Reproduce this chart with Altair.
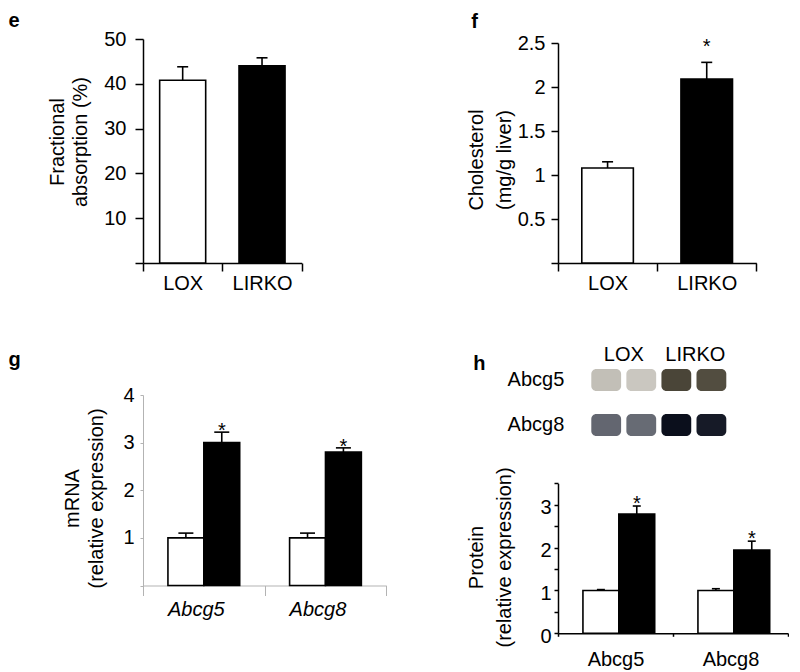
import altair as alt
import pandas as pd

FONT = "Liberation Sans"
GRAY = "#b3b3b3"

# ---------------- data ----------------
groups = ["LOX", "LIRKO"]
genes = ["Abcg5", "Abcg8"]

# panel e: fractional absorption (%)
e_mean = [40.8, 44.0]
e_upper = [43.8, 45.8]

# panel f: liver cholesterol (mg/g)
f_mean = [1.08, 2.09]
f_upper = [1.15, 2.28]
f_star = ["", "*"]

# panel g: mRNA relative expression
g_lox_mean = [1.0, 1.0]
g_lox_upper = [1.1, 1.1]
g_lirko_mean = [3.0, 2.8]
g_lirko_upper = [3.22, 2.89]
g_star = ["*", "*"]

# panel h: protein relative expression
h_lox_mean = [1.0, 1.0]
h_lox_upper = [1.02, 1.04]
h_lirko_mean = [2.78, 1.94]
h_lirko_upper = [2.97, 2.15]
h_star = ["*", "*"]

# western blot lanes (relative band darkness)
blot_lanes = ["LOX-1", "LOX-2", "LIRKO-1", "LIRKO-2"]
blot_abcg5 = [0.24, 0.2, 0.84, 0.8]
blot_abcg8 = [0.6, 0.58, 0.98, 0.93]

panel_letters = ["e", "f", "g", "h"]


def bar_color():
    return alt.Color("group:N", scale=alt.Scale(domain=groups, range=["white", "black"]), legend=None)


def letter(ch, x, y):
    return alt.Chart(pd.DataFrame({"t": [ch]})).mark_text(
        align="left", baseline="top", font=FONT, fontSize=20, fontWeight="bold", color="black"
    ).encode(text="t:N", x=alt.value(x), y=alt.value(y))


# ---------------- panel e ----------------
e_df = pd.DataFrame({"group": groups, "mean": e_mean, "upper": e_upper})
e_x = alt.X("group:N", sort=groups, scale=alt.Scale(domain=groups, paddingInner=0, paddingOuter=0),
            axis=alt.Axis(title=None, labelAngle=0, tickBand="extent", tickSize=8, labelPadding=2))
e_ax = alt.Axis(values=[0, 10, 20, 30, 40, 50], labelExpr="datum.value == 0 ? '' : datum.label",
                tickSize=8, labelPadding=9, labelOverlap=False,
                title=["Fractional", "absorption (%)"], titleX=-86, titleY=102.5, titleAngle=270,
                titleAlign="center", titleBaseline="middle", titleLineHeight=23)
e_sc = alt.Scale(domain=[0, 50])
e_base = alt.Chart(e_df)
e_chart = alt.layer(
    e_base.mark_bar(width=alt.RelativeBandSize(0.58), stroke="black", strokeWidth=1.6).encode(
        x=e_x, y=alt.Y("mean:Q", scale=e_sc, axis=e_ax), color=bar_color()),
    e_base.mark_rule(color="black", strokeWidth=1.6).encode(
        x=e_x, y=alt.Y("mean:Q", scale=e_sc, axis=e_ax), y2="upper:Q"),
    e_base.mark_tick(color="black", size=11, thickness=1.6, opacity=1).encode(
        x=e_x, y=alt.Y("upper:Q", scale=e_sc, axis=e_ax)),
    letter(panel_letters[0], -134.5, -28),
).properties(width=158.7, height=224)

# ---------------- panel f ----------------
f_df = pd.DataFrame({"group": groups, "mean": f_mean, "upper": f_upper, "star": f_star})
f_x = alt.X("group:N", sort=groups, scale=alt.Scale(domain=groups, paddingInner=0, paddingOuter=0),
            axis=alt.Axis(title=None, labelAngle=0, tickBand="extent", tickSize=8, labelPadding=2))
f_ax = alt.Axis(values=[0, 0.5, 1, 1.5, 2, 2.5], format="~g",
                labelExpr="datum.value == 0 ? '' : datum.label",
                tickSize=7, labelPadding=6, labelOverlap=False,
                title=["Cholesterol", "(mg/g liver)"], titleX=-82, titleY=120.5, titleAngle=270,
                titleAlign="center", titleBaseline="middle", titleLineHeight=28)
f_sc = alt.Scale(domain=[0, 2.5], range=[224, 4])
f_base = alt.Chart(f_df)
f_chart = alt.layer(
    f_base.mark_bar(width=alt.RelativeBandSize(0.52), stroke="black", strokeWidth=1.6).encode(
        x=f_x, y=alt.Y("mean:Q", scale=f_sc, axis=f_ax), color=bar_color()),
    f_base.mark_rule(color="black", strokeWidth=1.6).encode(
        x=f_x, y=alt.Y("mean:Q", scale=f_sc, axis=f_ax), y2="upper:Q"),
    f_base.mark_tick(color="black", size=11, thickness=1.6, opacity=1).encode(
        x=f_x, y=alt.Y("upper:Q", scale=f_sc, axis=f_ax)),
    f_base.mark_text(font=FONT, fontSize=20, dy=-15, color="black").encode(
        x=f_x, y=alt.Y("upper:Q", scale=f_sc, axis=f_ax), text="star:N"),
    letter(panel_letters[1], -86.7, -27),
).properties(width=198.3, height=224)


# ---------------- grouped data helper ----------------
def grouped_df(lox_m, lox_u, lirko_m, lirko_u, stars):
    rows = []
    for i, gene in enumerate(genes):
        rows.append({"gene": gene, "group": groups[0], "mean": lox_m[i], "upper": lox_u[i], "star": ""})
        rows.append({"gene": gene, "group": groups[1], "mean": lirko_m[i], "upper": lirko_u[i], "star": stars[i]})
    return pd.DataFrame(rows)


# ---------------- panel g ----------------
g_df = grouped_df(g_lox_mean, g_lox_upper, g_lirko_mean, g_lirko_upper, g_star)
g_x = alt.X("gene:N", sort=genes, scale=alt.Scale(domain=genes, paddingInner=0, paddingOuter=0),
            axis=alt.Axis(title=None, labelAngle=0, tickBand="extent", tickSize=10, labelPadding=4,
                          labelFontStyle="italic", labelOffset=-8, domainColor=GRAY, tickColor=GRAY,
                          domainWidth=1, tickWidth=1))
g_xo = alt.XOffset("group:N", sort=groups,
                   scale=alt.Scale(domain=groups, paddingInner=0, paddingOuter=0.695))
g_ax = alt.Axis(values=[0, 1, 2, 3, 4], labelExpr="datum.value == 0 ? '' : datum.label",
                tickSize=3, labelPadding=6, labelOverlap=False, domainColor=GRAY, tickColor=GRAY,
                domainWidth=1, tickWidth=1,
                title=["mRNA", "(relative expression)"], titleX=-71, titleY=153, titleAngle=270,
                titleAlign="center", titleBaseline="middle", titleLineHeight=24)
g_sc = alt.Scale(domain=[0, 4], range=[240.5, 50])
g_base = alt.Chart(g_df)
g_chart = alt.layer(
    g_base.mark_bar(stroke="black", strokeWidth=1.6).encode(
        x=g_x, xOffset=g_xo, y=alt.Y("mean:Q", scale=g_sc, axis=g_ax), color=bar_color()),
    g_base.mark_rule(color="black", strokeWidth=1.6).encode(
        x=g_x, xOffset=g_xo, y=alt.Y("mean:Q", scale=g_sc, axis=g_ax), y2="upper:Q"),
    g_base.mark_tick(color="black", size=15, thickness=1.6, opacity=1).encode(
        x=g_x, xOffset=g_xo, y=alt.Y("upper:Q", scale=g_sc, axis=g_ax)),
    g_base.mark_text(font=FONT, fontSize=20, dy=-1, color="black").encode(
        x=g_x, xOffset=g_xo, y=alt.Y("upper:Q", scale=g_sc, axis=g_ax), text="star:N"),
    letter(panel_letters[2], -134.5, 4.6),
).properties(width=243.3, height=240.5)

# ---------------- panel h ----------------
h_df = grouped_df(h_lox_mean, h_lox_upper, h_lirko_mean, h_lirko_upper, h_star)
h_x = alt.X("gene:N", sort=genes, scale=alt.Scale(domain=genes, paddingInner=0, paddingOuter=0),
            axis=alt.Axis(title=None, labelAngle=0, tickBand="extent", tickSize=3, labelPadding=13))
h_xo = alt.XOffset("group:N", sort=groups,
                   scale=alt.Scale(domain=groups, paddingInner=0, paddingOuter=0.72))
h_ax = alt.Axis(values=[0, 0.5, 1, 1.5, 2, 2.5, 3, 3.5], format="~g",
                labelExpr="datum.value % 1 == 0 ? datum.label : ''",
                tickSize=4, labelPadding=3, labelOffset=3, labelOverlap=False,
                title=["Protein", "(relative expression)"], titleX=-82, titleY=212, titleAngle=270,
                titleAlign="center", titleBaseline="middle", titleLineHeight=28.5)
h_sc = alt.Scale(domain=[0, 3.5], range=[288.3, 138.3])
h_base = alt.Chart(h_df)
h_bars = alt.layer(
    h_base.mark_bar(stroke="black", strokeWidth=1.6).encode(
        x=h_x, xOffset=h_xo, y=alt.Y("mean:Q", scale=h_sc, axis=h_ax), color=bar_color()),
    h_base.mark_rule(color="black", strokeWidth=1.6).encode(
        x=h_x, xOffset=h_xo, y=alt.Y("mean:Q", scale=h_sc, axis=h_ax), y2="upper:Q"),
    h_base.mark_tick(color="black", size=8, thickness=1.6, opacity=1).encode(
        x=h_x, xOffset=h_xo, y=alt.Y("upper:Q", scale=h_sc, axis=h_ax)),
    h_base.mark_text(font=FONT, fontSize=20, dy=-2, color="black").encode(
        x=h_x, xOffset=h_xo, y=alt.Y("upper:Q", scale=h_sc, axis=h_ax), text="star:N"),
)

# western blot
lane_x = alt.X("lane:N", sort=blot_lanes,
               scale=alt.Scale(domain=blot_lanes, range=[33.3, 168.3], paddingInner=0.15, paddingOuter=0),
               axis=None)
row_y = alt.Y("row:N", sort=genes,
              scale=alt.Scale(domain=genes, range=[12.5, 102.5], paddingInner=0.51, paddingOuter=0.255),
              axis=None)
b5 = pd.DataFrame({"lane": blot_lanes, "row": genes[0], "v": blot_abcg5})
b8 = pd.DataFrame({"lane": blot_lanes, "row": genes[1], "v": blot_abcg8})
blot5 = alt.Chart(b5).mark_rect(cornerRadius=5).encode(
    x=lane_x, y=row_y,
    color=alt.Color("v:Q", scale=alt.Scale(domain=[0, 1], range=["#f2f0ea", "#2a2416"], interpolate="rgb"),
                    legend=None))
blot8 = alt.Chart(b8).mark_rect(cornerRadius=5).encode(
    x=lane_x, y=row_y,
    color=alt.Color("v:Q", scale=alt.Scale(domain=[0, 1], range=["#eef0f4", "#060a18"], interpolate="rgb"),
                    legend=None))
row_labels = alt.Chart(pd.DataFrame({"row": genes})).mark_text(
    align="right", baseline="middle", font=FONT, fontSize=20, color="black"
).encode(y=row_y, x=alt.value(6.3), text="row:N")
lox_label = alt.Chart(pd.DataFrame({"g": [groups[0]]})).mark_text(
    align="center", baseline="middle", font=FONT, fontSize=20, color="black"
).encode(text="g:N", x=alt.value(65.8), y=alt.value(10))
lirko_label = alt.Chart(pd.DataFrame({"g": [groups[1]]})).mark_text(
    align="center", baseline="middle", font=FONT, fontSize=20, color="black"
).encode(text="g:N", x=alt.value(137.3), y=alt.value(10))
blot = alt.layer(blot5, blot8, row_labels, lox_label, lirko_label).resolve_scale(color="independent")

h_chart = alt.layer(h_bars, blot, letter(panel_letters[3], -84.7, 9.2)).resolve_scale(
    x="independent", y="independent", color="independent"
).properties(width=230, height=288.3)

# ---------------- assemble ----------------
chart = alt.concat(
    e_chart, f_chart, g_chart, h_chart,
    columns=2, spacing={"row": 82, "column": 171}, bounds="flush", align="each",
).properties(
    padding={"left": 0, "top": 3, "right": 0, "bottom": 0}, background="white"
).configure_view(stroke=None).configure_axis(
    labelFont=FONT, titleFont=FONT, labelFontSize=20, titleFontSize=20,
    labelColor="black", titleColor="black", titleFontWeight="normal",
    domainColor="black", tickColor="black", domainWidth=1.5, tickWidth=1.5, grid=False,
)

chart.save("out.html", embed_options={"renderer": "svg", "actions": False})
